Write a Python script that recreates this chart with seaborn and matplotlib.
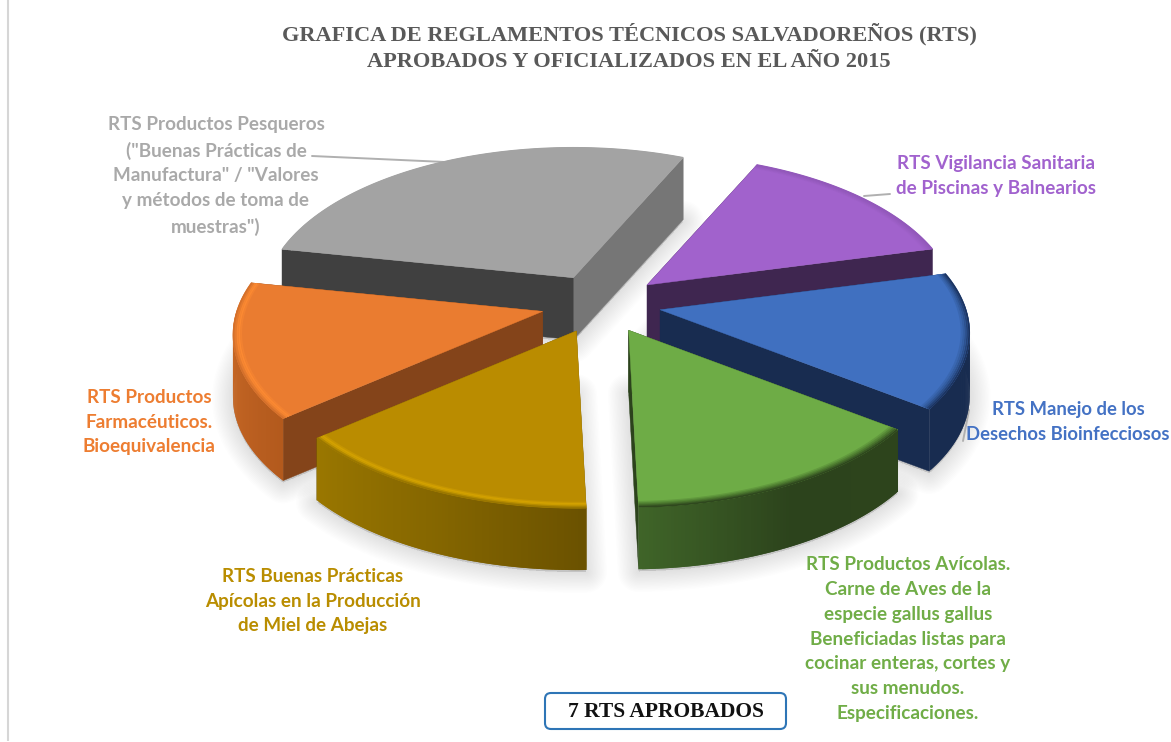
import numpy as np
import matplotlib
matplotlib.use("Agg")
import matplotlib.pyplot as plt
from matplotlib.patches import FancyBboxPatch
import seaborn as sns

# ── Data ──────────────────────────────────────────────────────────────────────
labels = [
    "RTS Manejo de los\nDesechos Bioinfecciosos",
    "RTS Vigilancia Sanitaria\nde Piscinas y Balnearios",
    "RTS Productos Pesqueros\n(\"Buenas Prácticas de\nManufactura\" / \"Valores\ny métodos de toma de\nmuestras\")",
    "RTS Productos\nFarmacéuticos.\nBioequivalencia",
    "RTS Buenas Prácticas\nApícolas en la Producción\nde Miel de Abejas",
    "RTS Productos Avícolas.\nCarne de Aves de la\nespecie gallus gallus\nBeneficiadas listas para\ncocinar enteras, cortes y\nsus menudos.\nEspecificaciones.",
]
values = [1, 1, 2, 1, 1, 1]
title = "GRAFICA DE REGLAMENTOS TÉCNICOS SALVADOREÑOS (RTS)\nAPROBADOS Y OFICIALIZADOS EN EL AÑO 2015"
total_label = "7 RTS APROBADOS"

# ── Style ─────────────────────────────────────────────────────────────────────
top_colors = ["#4070c0", "#a162cc", "#a3a3a3", "#ea7c30", "#ba8c00", "#6eac46"]
text_colors = ["#4472c4", "#a162ce", "#a9a9a9", "#ed7d31", "#b98d00", "#70ad47"]
# side faces at the start and end angle of each slice
side_colors = [
    ("#182c50", "#182c50"), ("#3f2650", "#3f2650"), ("#767676", "#404040"),
    ("#84441a", "#84441a"), ("#6e5400", "#6e5400"), ("#2c431c", "#2c431c"),
]
rim_stops = [
    ["#182c50", "#182c50"], ["#3f2650", "#3f2650"], ["#767676", "#767676"],
    ["#d4702b", "#b35a1d"], ["#9a7700", "#866700", "#6b5200"], ["#3f6428", "#2c431c", "#2d441c"],
]
bevel_stops = [
    ["#4070c0", "#31599b", "#1c3460"], ["#a162cc", "#9258ba"], ["#a3a3a3", "#a3a3a3"],
    ["#ea7c30", "#ff8c33", "#d4702b"], ["#ba8c00", "#d9a600", "#9a7700"], ["#6eac46", "#4f7f31", "#2f481e"],
]
draw_order = [2, 1, 0, 3, 4, 5]
label_xy = [(1068, 422), (996, 176), (216, 176), (149, 422), (313, 601), (908, 639)]
label_sizes = [13.3, 13.55, 13.55, 13.55, 13.55, 13.55]
leaders = [((963, 441), (969, 410)), ((864, 196), (890, 194)), ((312, 156), (445, 162))]

# projection of the pie plane onto the picture
CX, CY = 601, 304
A, B = 306, 150
P = 0.153
DEPTH = 62


def project(wedge, frac, thetas):
    t = np.radians(thetas)
    u, v = frac * np.cos(t), frac * np.sin(t)
    s = 1 / (1 + P * v)
    ex, ey = wedge.center
    return CX + A * (ex + u * s), CY - B * (ey + v * s)


def apex(wedge):
    ex, ey = wedge.center
    return CX + A * ex, CY - B * ey


def draw_slice(ax, wedge, i, z):
    thetas = np.linspace(wedge.theta1, wedge.theta2, 90)
    x, y = project(wedge, 1.0, thetas)
    ax0, ay0 = apex(wedge)

    # flat cut faces
    for (xc, yc), col in zip([(x[0], y[0]), (x[-1], y[-1])], side_colors[i]):
        ax.fill([ax0, xc, xc, ax0], [ay0, yc, yc + DEPTH, ay0 + DEPTH],
                color=col, lw=0.3, zorder=z)

    # outer rim, only the part facing the viewer, shaded left to right
    rim = sns.blend_palette(rim_stops[i], n_colors=len(x) - 1)
    front = np.sin(np.radians(thetas)) < 0.02
    for k, col in enumerate(rim):
        if not front[k]:
            continue
        e = min(k + 3, len(x))  # overlap the next strip so no seams show
        ax.fill(np.r_[x[k:e], x[k:e][::-1]], np.r_[y[k:e], y[k:e][::-1] + DEPTH],
                color=col, lw=0, zorder=z + 0.1)

    # top face
    ax.fill(np.r_[ax0, x], np.r_[ay0, y], color=top_colors[i], lw=0.3, zorder=z + 0.2)

    # soft bevel along the outer edge
    fracs = np.linspace(0.968, 0.998, 6)
    for frac, col in zip(fracs, sns.blend_palette(bevel_stops[i], n_colors=6)):
        bx, by = project(wedge, frac, thetas)
        ax.plot(bx, by, color=col, lw=1.3, solid_capstyle="butt", zorder=z + 0.3)


sns.set_theme(style="white")
plt.rcParams["font.family"] = ["Lato", "DejaVu Sans"]

fig = plt.figure(figsize=(11.71, 7.42), dpi=100)
ax = fig.add_axes([0, 0, 1, 1])

wedges, texts = ax.pie(values, explode=[0.197] * len(values), startangle=-37, radius=1)
for w in wedges:
    w.remove()
for t in texts:
    t.remove()

ax.set_aspect("auto")
ax.set_xlim(0, 1171)
ax.set_ylim(742, 0)
ax.axis("off")

# drop shadow under the slices
for w in wedges:
    thetas = np.linspace(w.theta1, w.theta2, 70)
    x, y = project(w, 1.0, thetas)
    ax0, ay0 = apex(w)
    for lw in np.arange(2, 32, 2):
        ax.fill(np.r_[ax0, x], np.r_[ay0, y] + DEPTH + 2, color="black", alpha=0.0065,
                lw=lw, joinstyle="round", zorder=1)

for n, i in enumerate(draw_order):
    draw_slice(ax, wedges[i], i, 2 + n)

for (p0, p1) in leaders:
    ax.plot([p0[0], p1[0]], [p0[1], p1[1]], color="#b0b0b0", lw=1.4, zorder=1.5)

for lab, (lx, ly), col, fs in zip(labels, label_xy, text_colors, label_sizes):
    ax.text(lx, ly, lab, color=col, fontsize=fs, fontweight="bold", ha="center", va="center",
            linespacing=1.56, zorder=20)

ax.text(629, 47.5, title, color="#595959", family="Liberation Serif", fontsize=16.1, fontweight="bold",
        ha="center", va="center", linespacing=1.38, zorder=20)

box = FancyBboxPatch((545, 693), 241, 36, boxstyle="round,pad=0,rounding_size=6",
                     fc="white", ec="#2e75b6", lw=1.5, zorder=19)
ax.add_patch(box)
ax.text(665.5, 712, total_label, color="#111111", family="Liberation Serif", fontsize=15.5,
        fontweight="bold", ha="center", va="center", zorder=20)

# page edge left in the screenshot
ax.plot([8, 8], [0, 741], color="#d6d6d6", lw=1.5, solid_capstyle="butt", zorder=0.5)

fig.savefig("out.png", dpi=100)
